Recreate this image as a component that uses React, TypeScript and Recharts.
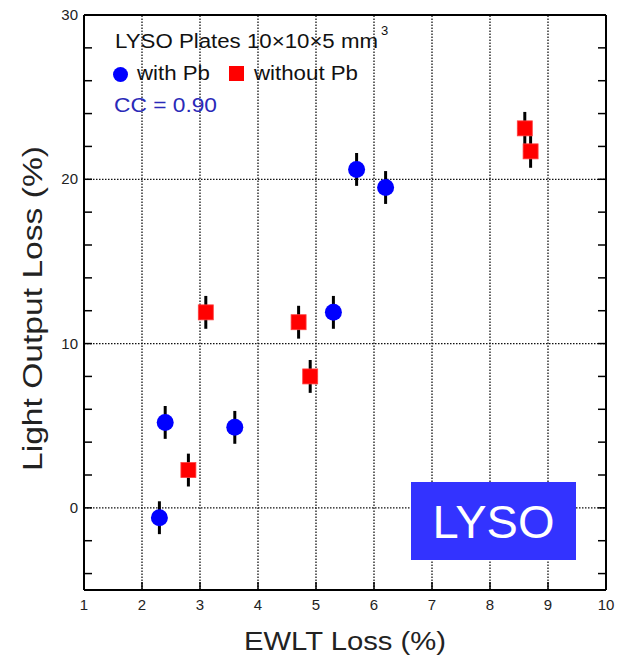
import React from 'react';
import { ScatterChart, Scatter, XAxis, YAxis, ErrorBar, ReferenceLine } from 'recharts';

// with Pb (blue circles)
const withPbX = [2.3, 2.4, 3.6, 5.3, 5.7, 6.2];
const withPbY = [-0.6, 5.2, 4.9, 11.9, 20.6, 19.5];
const withPbErrY = [1.0, 1.0, 1.0, 1.0, 1.0, 1.0];
const withPbErrX = [0.12, 0.12, 0.12, 0.12, 0.12, 0.12];

// without Pb (red squares)
const withoutPbX = [2.8, 3.1, 4.7, 4.9, 8.6, 8.7];
const withoutPbY = [2.3, 11.9, 11.3, 8.0, 23.1, 21.7];
const withoutPbErrY = [1.0, 1.0, 1.0, 1.0, 1.0, 1.0];
const withoutPbErrX = [0.12, 0.12, 0.12, 0.12, 0.12, 0.12];

const xTicks = [1, 2, 3, 4, 5, 6, 7, 8, 9, 10];
const yTicks = [-4, -2, 0, 2, 4, 6, 8, 10, 12, 14, 16, 18, 20, 22, 24, 26, 28, 30];
const yLabels = [0, 10, 20, 30];
const xGrid = [2, 3, 4, 5, 6, 7, 8, 9];
const yGrid = [0, 10, 20];

const xDomain = [1, 10];
const yDomain = [-5, 30];

const FONT = '"Liberation Sans", Arial, Helvetica, sans-serif';

const withPbData = withPbX.map((x, i) => ({ x, y: withPbY[i], ey: withPbErrY[i], ex: withPbErrX[i] }));
const withoutPbData = withoutPbX.map((x, i) => ({ x, y: withoutPbY[i], ey: withoutPbErrY[i], ex: withoutPbErrX[i] }));

const XTick = (props: any) => {
  const { x, y, payload } = props;
  return (
    <g>
      <line x1={x} x2={x} y1={y} y2={y - 8} stroke="#000" strokeWidth={1.5} />
      <text x={x} y={y + 20} textAnchor="middle" fontSize={15} fontFamily={FONT} fill="#222">
        {payload.value}
      </text>
    </g>
  );
};

const LeftTick = (props: any) => {
  const { x, y, payload } = props;
  const v = payload.value;
  return (
    <g>
      <line x1={x} x2={x + 8} y1={y} y2={y} stroke="#000" strokeWidth={1.5} />
      {yLabels.includes(v) && (
        <text x={x - 6} y={y + 5} textAnchor="end" fontSize={15} fontFamily={FONT} fill="#222">
          {v}
        </text>
      )}
    </g>
  );
};

const RightTick = (props: any) => {
  const { x, y } = props;
  return <line x1={x} x2={x - 8} y1={y} y2={y} stroke="#000" strokeWidth={1.5} />;
};

const XTitle = (props: any) => {
  const vb = props.viewBox || { x: 84, y: 590, width: 522, height: 67 };
  return (
    <text
      x={vb.x + vb.width / 2 - 101}
      y={vb.y + 60}
      fontSize={26}
      fontFamily={FONT}
      fill="#222"
      textLength={202}
      lengthAdjust="spacingAndGlyphs"
    >
      EWLT Loss (%)
    </text>
  );
};

const YTitle = (props: any) => {
  const vb = props.viewBox || { x: 0, y: 15, width: 84, height: 575 };
  const cx = 42;
  const cy = vb.y + vb.height / 2 + 6;
  return (
    <text
      x={cx}
      y={cy}
      transform={`rotate(-90 ${cx} ${cy})`}
      textAnchor="middle"
      fontSize={27}
      fontFamily={FONT}
      fill="#222"
      textLength={325}
      lengthAdjust="spacingAndGlyphs"
    >
      Light Output Loss (%)
    </text>
  );
};

const CircleShape = (props: any) => {
  const { cx, cy } = props;
  return <circle cx={cx} cy={cy} r={8.5} fill="#0000ff" />;
};

const SquareShape = (props: any) => {
  const { cx, cy } = props;
  return <rect x={cx - 7.5} y={cy - 7.5} width={15} height={15} fill="#ff0000" stroke="#ff4040" strokeWidth={0.8} />;
};

export default function App() {
  return (
    <div style={{ position: 'absolute', left: 0, top: 0, width: 625, height: 657, background: '#fff' }}>
      <ScatterChart width={625} height={657} margin={{ top: 15, right: 0, bottom: 0, left: 0 }}>
        <XAxis
          type="number"
          dataKey="x"
          domain={xDomain}
          ticks={xTicks}
          interval={0}
          allowDataOverflow
          height={67}
          tickSize={0}
          tickMargin={0}
          tickLine={false}
          axisLine={{ stroke: '#000', strokeWidth: 2 }}
          tick={<XTick />}
          label={{ content: XTitle }}
        />
        <YAxis
          type="number"
          dataKey="y"
          domain={yDomain}
          ticks={yTicks}
          interval={0}
          allowDataOverflow
          width={84}
          tickSize={0}
          tickMargin={0}
          tickLine={false}
          axisLine={{ stroke: '#000', strokeWidth: 2 }}
          tick={<LeftTick />}
          label={{ content: YTitle }}
        />
        <YAxis
          yAxisId="right"
          orientation="right"
          type="number"
          domain={yDomain}
          ticks={yTicks}
          interval={0}
          allowDataOverflow
          width={19}
          tickSize={0}
          tickMargin={0}
          tickLine={false}
          axisLine={{ stroke: '#000', strokeWidth: 2 }}
          tick={<RightTick />}
        />
        {xGrid.map((v) => (
          <ReferenceLine key={'gx' + v} x={v} stroke="#111" strokeWidth={1.3} strokeDasharray="1.5 1.5" />
        ))}
        {yGrid.map((v) => (
          <ReferenceLine key={'gy' + v} y={v} stroke="#111" strokeWidth={1.3} strokeDasharray="1.5 1.5" />
        ))}
        <ReferenceLine y={30} stroke="#000" strokeWidth={2} />
        <Scatter name="with Pb" data={withPbData} shape={<CircleShape />} isAnimationActive={false}>
          <ErrorBar dataKey="ey" direction="y" width={0} stroke="#000" strokeWidth={3} />
          <ErrorBar dataKey="ex" direction="x" width={0} stroke="#000" strokeWidth={1.5} />
        </Scatter>
        <Scatter name="without Pb" data={withoutPbData} shape={<SquareShape />} isAnimationActive={false}>
          <ErrorBar dataKey="ey" direction="y" width={0} stroke="#000" strokeWidth={3} />
          <ErrorBar dataKey="ex" direction="x" width={0} stroke="#000" strokeWidth={1.5} />
        </Scatter>
      </ScatterChart>

      <svg
        width={625}
        height={657}
        style={{ position: 'absolute', left: 0, top: 0, pointerEvents: 'none' }}
      >
        <text x={115} y={48} fontSize={20} fontFamily={FONT} fill="#111" textLength={263} lengthAdjust="spacingAndGlyphs">
          LYSO Plates 10×10×5 mm
        </text>
        <text x={381} y={35} fontSize={13} fontFamily={FONT} fill="#111">
          3
        </text>
        <circle cx={120.5} cy={74.5} r={7.5} fill="#0000ff" />
        <text x={137} y={80} fontSize={20} fontFamily={FONT} fill="#111" textLength={73} lengthAdjust="spacingAndGlyphs">
          with Pb
        </text>
        <rect x={229} y={66} width={15} height={15} fill="#ff0000" />
        <text x={254} y={80} fontSize={20} fontFamily={FONT} fill="#111" textLength={104} lengthAdjust="spacingAndGlyphs">
          without Pb
        </text>
        <text x={114} y={112} fontSize={20} fontFamily={FONT} fill="#2a2ab8" textLength={103} lengthAdjust="spacingAndGlyphs">
          CC = 0.90
        </text>
        <rect x={411} y={482} width={165} height={78} fill="#3333ff" />
        <text x={493.5} y={538} textAnchor="middle" fontSize={47} fontFamily={FONT} fill="#fff">
          LYSO
        </text>
      </svg>
    </div>
  );
}
